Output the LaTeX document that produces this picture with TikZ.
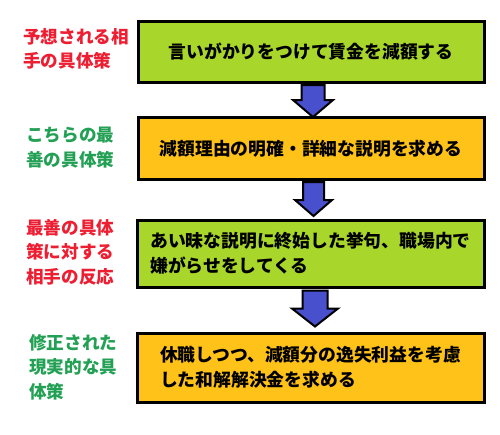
\documentclass[tikz,border=0pt]{standalone}
\usepackage{fontspec}
\usetikzlibrary{calc}
\newfontfamily\jpb{Noto Sans CJK JP}
\definecolor{boxgreen}{RGB}{168,214,42}
\definecolor{boxorange}{RGB}{255,194,24}
\definecolor{labred}{RGB}{238,30,50}
\definecolor{labgreen}{RGB}{34,160,84}
\definecolor{arrblue}{RGB}{72,80,205}
\tikzset{
  stepbox/.style={draw=black, line width=3pt, inner sep=0pt, align=left,
    font=\jpb\bfseries\fontsize{17.8}{25}\selectfont, text=black},
  sidelab/.style={anchor=north west, inner sep=0pt, align=left,
    font=\jpb\bfseries\fontsize{17.6}{24.5}\selectfont},
  barrow/.style={draw=black, line width=2pt, fill=arrblue, line join=miter}
}
\begin{document}
\begin{tikzpicture}[x=1pt,y=-1pt]
\useasboundingbox (0,0) rectangle (500,434);
\fill[white] (0,0) rectangle (500,434);
% boxes
\node[stepbox, fill=boxgreen, minimum width=346, minimum height=61] (b1) at (311,52)
  {言いがかりをつけて賃金を減額する};
\node[stepbox, fill=boxorange, minimum width=346, minimum height=62] (b2) at (311,148.5)
  {減額理由の明確・詳細な説明を求める};
\node[stepbox, fill=boxgreen, minimum width=347, minimum height=67] (b3) at (310.5,253.5)
  {あい昧な説明に終始した挙句、職場内で\\嫌がらせをしてくる};
\node[stepbox, fill=boxorange, minimum width=347, minimum height=69] (b4) at (310.5,367.5)
  {休職しつつ、減額分の逸失利益を考慮\\した和解解決金を求める};
% labels
\node[sidelab, text=labred] (l1) at (23,28) {予想される相\\手の具体策};
\node[sidelab, text=labgreen] (l2) at (26,127) {こちらの最\\善の具体策};
\node[sidelab, text=labred] (l3) at (26,219) {最善の具体\\策に対する\\相手の反応};
\node[sidelab, text=labgreen] (l4) at (29,334) {修正された\\現実的な具\\体策};
% arrows
\coordinate (a1) at ($(b1.south)+(2,1)$);
\coordinate (a2) at ($(b2.south)+(2.5,1)$);
\coordinate (a3) at ($(b3.south)+(4.5,2)$);
\draw[barrow, shift={(a1)}] (-11.5,0) -- (11.5,0) -- (11.5,15) -- (20,15) -- (0,32) -- (-20,15) -- (-11.5,15) -- cycle;
\draw[barrow, shift={(a2)}] (-10.5,0) -- (10.5,0) -- (10.5,18) -- (18.5,18) -- (0,34) -- (-18.5,18) -- (-10.5,18) -- cycle;
\draw[barrow, shift={(a3)}] (-12.5,0) -- (12.5,0) -- (12.5,18) -- (23,18) -- (0,36) -- (-23,18) -- (-12.5,18) -- cycle;
\end{tikzpicture}
\end{document}
